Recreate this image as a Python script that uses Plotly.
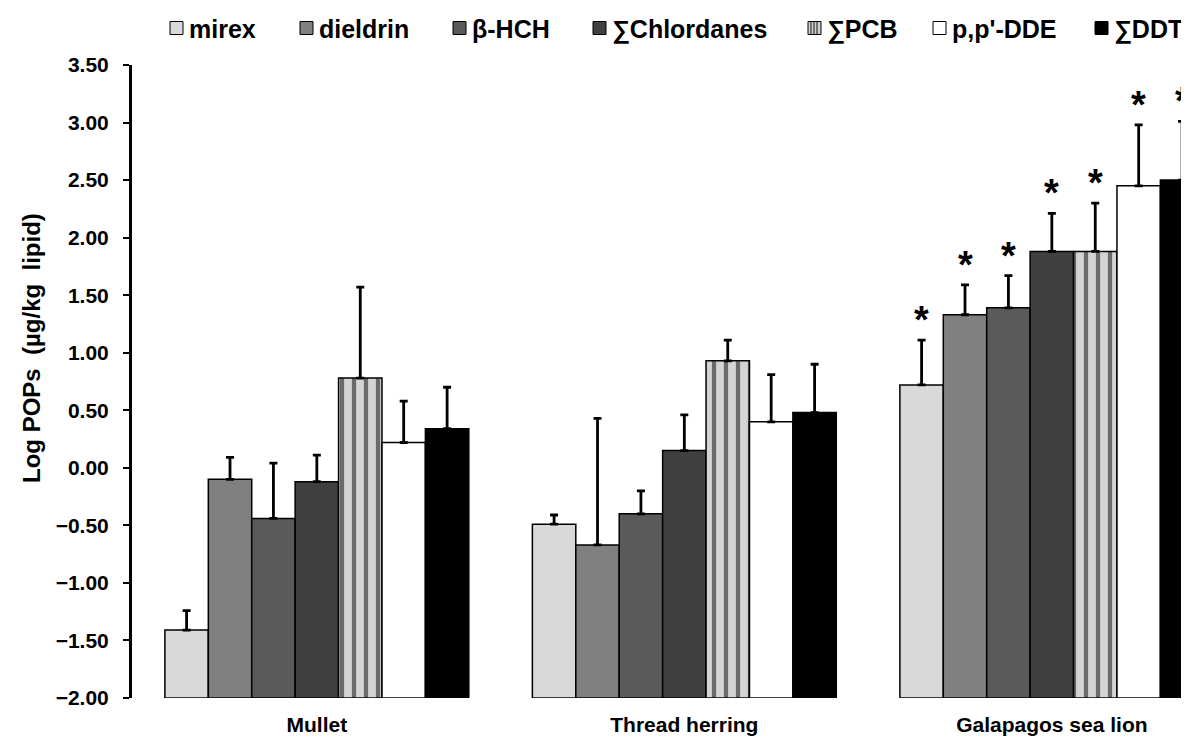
import plotly.graph_objects as go

# ---------------- data ----------------
categories = ["Mullet", "Thread herring", "Galapagos sea lion"]
series_names = ["mirex", "dieldrin", "β-HCH", "∑Chlordanes", "∑PCB", "p,p'-DDE", "∑DDT"]

mirex = [-1.41, -0.49, 0.72]
dieldrin = [-0.10, -0.67, 1.33]
bhch = [-0.44, -0.40, 1.39]
chlordanes = [-0.12, 0.15, 1.88]
pcb = [0.78, 0.93, 1.88]
dde = [0.22, 0.40, 2.45]
ddt = [0.34, 0.48, 2.50]

mirex_err = [0.17, 0.08, 0.39]
dieldrin_err = [0.19, 1.10, 0.26]
bhch_err = [0.48, 0.20, 0.28]
chlordanes_err = [0.23, 0.31, 0.33]
pcb_err = [0.79, 0.18, 0.42]
dde_err = [0.36, 0.41, 0.53]
ddt_err = [0.36, 0.42, 0.51]

significant = [False, False, True]  # asterisks

y_ticks = [-2.0, -1.5, -1.0, -0.5, 0.0, 0.5, 1.0, 1.5, 2.0, 2.5, 3.0, 3.5]

values = [mirex, dieldrin, bhch, chlordanes, pcb, dde, ddt]
errors = [mirex_err, dieldrin_err, bhch_err, chlordanes_err, pcb_err, dde_err, ddt_err]

# ---------------- styling ----------------
colors = ["#d9d9d9", "#808080", "#5a5a5a", "#404040", "#d0d0d0", "#ffffff", "#000000"]
FONT = "Liberation Sans, Arial, sans-serif"
W, H = 1189, 738
ML, MR, MT, MB = 124, 0, 57, 48
Y_BASE = -2.0
BARGAP = 0.173
n = len(series_names)
bw = (1 - BARGAP) / n
x_idx = list(range(len(categories)))

fig = go.Figure()
for j, name in enumerate(series_names):
    marker = dict(color=colors[j], line=dict(color="black", width=1.5))
    if name == "∑PCB":
        marker["pattern"] = dict(shape="|", fgcolor="#6a6a6a", bgcolor="#d4d4d4",
                                 size=12, solidity=0.35, fillmode="replace")
    fig.add_trace(go.Bar(
        name=name,
        x=x_idx,
        y=[v - Y_BASE for v in values[j]],
        base=Y_BASE,
        marker=marker,
        error_y=dict(type="data", array=errors[j], arrayminus=[0] * len(categories),
                     symmetric=False, color="black", thickness=2.8, width=4),
        showlegend=False,
    ))

# asterisks
for j in range(n):
    for i in x_idx:
        if significant[i]:
            fig.add_annotation(
                x=i + (j - (n - 1) / 2) * bw, y=values[j][i] + errors[j][i],
                xref="x", yref="y", text="*", showarrow=False,
                yanchor="bottom", yshift=-3,
                font=dict(family=FONT, size=38, color="black", weight="bold"),
            )

# manual legend
pw = W - ML - MR
ph = H - MT - MB
def px2paper(px):
    return (px - ML) / pw
def py2paper(py):
    return 1 - (py - MT) / ph

legend_sq_x = [162, 292, 445, 585, 800, 925, 1087]
leg_y_px = 20

for j, name in enumerate(series_names):
    x0 = legend_sq_x[j]
    fig.add_shape(type="rect", xref="paper", yref="paper",
                  x0=px2paper(x0), x1=px2paper(x0 + 13),
                  y0=py2paper(leg_y_px + 6.5), y1=py2paper(leg_y_px - 6.5),
                  fillcolor=colors[j], line=dict(color="black", width=1))
    if name == "∑PCB":
        for k in [3, 6, 9]:
            fig.add_shape(type="line", xref="paper", yref="paper",
                          x0=px2paper(x0 + k), x1=px2paper(x0 + k),
                          y0=py2paper(leg_y_px + 6), y1=py2paper(leg_y_px - 6),
                          line=dict(color="#555555", width=1.5))
    fig.add_annotation(x=px2paper(x0 + 17), y=py2paper(leg_y_px + 1), xref="paper", yref="paper",
                       text=name, showarrow=False, xanchor="left", yanchor="middle",
                       font=dict(family=FONT, size=25, color="black", weight="bold"))

# y title
fig.add_annotation(x=px2paper(23), y=py2paper(340), xref="paper", yref="paper",
                   text="Log POPs  (µg/kg  lipid)", textangle=-90, showarrow=False,
                   xanchor="center", yanchor="middle",
                   font=dict(family=FONT, size=24, color="black", weight="bold"))

fig.update_layout(
    width=W, height=H,
    margin=dict(l=ML, r=MR, t=MT, b=MB),
    paper_bgcolor="white", plot_bgcolor="white",
    barmode="group", bargap=BARGAP, bargroupgap=0,
    xaxis=dict(range=[-0.503, 2.395], tickvals=x_idx, ticktext=categories,
               showgrid=False, zeroline=False, showline=False, ticks="",
               ticklabelstandoff=12,
               tickfont=dict(family=FONT, size=21, color="black", weight="bold")),
    yaxis=dict(range=[-2.0, 3.5], tickvals=y_ticks, tickformat=".2f",
               showgrid=False, zeroline=False, showline=True, linecolor="black", linewidth=3,
               ticks="outside", ticklen=6, tickwidth=2, tickcolor="black",
               ticklabelstandoff=10,
               tickfont=dict(family=FONT, size=21, color="black", weight="bold")),
    showlegend=False,
)

fig.write_html("out.html")
